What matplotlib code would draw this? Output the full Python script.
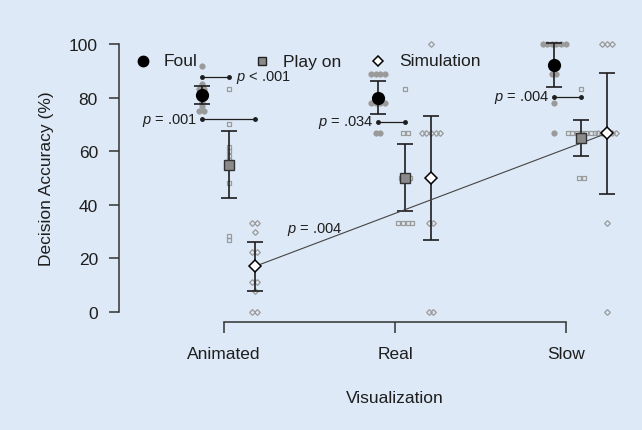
import matplotlib
matplotlib.use("Agg")
import matplotlib.pyplot as plt

plt.rcParams['font.family'] = ['Liberation Sans', 'DejaVu Sans']
plt.rcParams['mathtext.fontset'] = 'custom'
plt.rcParams['mathtext.it'] = 'Liberation Sans:italic'
plt.rcParams['mathtext.rm'] = 'Liberation Sans'

categories = ['Animated', 'Real', 'Slow']
series = ['Foul', 'Play on', 'Simulation']

# group means and 95% CI half widths (%)
foul_mean = [81.0, 80.0, 92.2]
foul_ci = [3.4, 6.3, 8.3]
playon_mean = [55.0, 50.0, 65.0]
playon_ci = [12.6, 12.5, 6.7]
sim_mean = [17.0, 50.0, 66.7]
sim_ci = [9.2, 23.3, 22.5]

# individual participant scores
foul_raw = [
    [91.7, 85.0, 83.3, 83.3, 81.7, 80.0, 78.3, 76.7, 75.0, 75.0],
    [88.9, 88.9, 88.9, 88.9, 77.8, 77.8, 77.8, 77.8, 66.7, 66.7],
    [100, 100, 100, 100, 100, 100, 88.9, 88.9, 77.8, 66.7],
]
playon_raw = [
    [83.3, 70.0, 61.7, 60.0, 58.3, 56.7, 48.3, 28.3, 26.7],
    [83.3, 66.7, 66.7, 50.0, 50.0, 50.0, 33.3, 33.3, 33.3, 33.3],
    [83.3, 66.7, 66.7, 66.7, 66.7, 66.7, 66.7, 66.7, 50.0, 50.0],
]
sim_raw = [
    [33.3, 33.3, 30.0, 22.2, 22.2, 11.1, 11.1, 7.7, 0, 0],
    [100, 66.7, 66.7, 66.7, 66.7, 66.7, 33.3, 33.3, 0, 0],
    [100, 100, 100, 66.7, 66.7, 66.7, 66.7, 66.7, 33.3, 0],
]

# pairwise comparisons: category, target series, height, label, side
comp_cat = [0, 0, 1, 2]
comp_target = [1, 2, 1, 1]
comp_y = [87.7, 72.0, 71.0, 80.3]
comp_label = [r'$p$ < .001', r'$p$ = .001', r'$p$ = .034', r'$p$ = .004']
comp_side = ['right', 'left', 'left', 'left']
trend_label = r'$p$ = .004'

BG = '#dde9f6'
INK = '#1e1e1e'
GREY = '#9a9a9a'

offsets = [-0.13, 0.03, 0.18]
step = 1.03


def xpos(cat, s):
    return cat * step + offsets[s]


def swarm(values, x0, d=0.027):
    xs, ys = [], []
    for v in sorted(set(values), reverse=True):
        k = values.count(v)
        for j in range(k):
            xs.append(x0 + (j - (k - 1) / 2) * d)
            ys.append(v)
    return xs, ys


fig = plt.figure(figsize=(6.42, 4.31), dpi=100, facecolor=BG)
ax = fig.add_axes([0.1625, 0.2427, 0.8257, 0.684])
ax.set_facecolor(BG)

means = [foul_mean, playon_mean, sim_mean]
cis = [foul_ci, playon_ci, sim_ci]
raws = [foul_raw, playon_raw, sim_raw]
raw_style = [
    dict(marker='o', ms=3.9, mfc=GREY, mec=GREY, mew=0.5),
    dict(marker='s', ms=3.3, mfc='none', mec=GREY, mew=0.9),
    dict(marker='D', ms=2.9, mfc='none', mec=GREY, mew=0.9),
]
mean_style = [
    dict(marker='o', ms=8.5, mfc='black', mec='black', mew=1),
    dict(marker='s', ms=6.5, mfc='#8a8a8a', mec='#333333', mew=1),
    dict(marker='D', ms=6, mfc='white', mec='black', mew=1.1),
]

for s in range(3):
    for c in range(3):
        xs, ys = swarm(raws[s][c], xpos(c, s))
        ax.plot(xs, ys, ls='none', zorder=2, clip_on=False, **raw_style[s])
        ax.errorbar(xpos(c, s), means[s][c], yerr=cis[s][c], color=INK,
                    lw=1.2, capsize=5.5, capthick=1.2, zorder=3)
        ax.plot(xpos(c, s), means[s][c], ls='none', zorder=5, **mean_style[s])

# comparison brackets
for c, t, y, lab, side in zip(comp_cat, comp_target, comp_y, comp_label, comp_side):
    x0, x1 = xpos(c, 0), xpos(c, t)
    ax.plot([x0, x1], [y, y], color=INK, lw=0.9, marker='o', ms=2.5, zorder=4)
    if side == 'right':
        ax.text(x1 + 0.04, y, lab, ha='left', va='center', fontsize=10.5, color=INK)
    else:
        ax.text(x0 - 0.03, y, lab, ha='right', va='center', fontsize=10.5, color=INK)

# simulation trend line
ax.plot([xpos(0, 2), xpos(2, 2)], [sim_mean[0], sim_mean[2]], color='#444444',
        lw=0.8, marker='o', ms=2.2, zorder=4)
ax.text(0.53, 31, trend_label, ha='center', va='center', fontsize=10.5, color=INK)

ax.set_xlim(-0.7, 2.4)
ax.set_ylim(-5, 105)
ax.set_xticks(range(3))
ax.set_xticklabels(categories)
ax.set_yticks([0, 20, 40, 60, 80, 100])
for side in ['top', 'right']:
    ax.spines[side].set_visible(False)
ax.spines['left'].set_position(('data', -0.614))
ax.spines['left'].set_bounds(0, 100)
ax.spines['bottom'].set_position(('data', -3.7))
ax.spines['bottom'].set_bounds(0, 2)
for side in ['left', 'bottom']:
    ax.spines[side].set_color('#333333')
    ax.spines[side].set_linewidth(1.1)
ax.tick_params(axis='y', length=7.2, width=1.1, color='#333333', pad=8,
               labelsize=12.5, labelcolor=INK)
ax.tick_params(axis='x', length=8, width=1.1, color='#333333', pad=9,
               labelsize=12.5, labelcolor=INK)

fig.text(47 / 642, 1 - 179 / 431, 'Decision Accuracy (%)', rotation=90,
         ha='center', va='center', fontsize=12.5, color=INK)
fig.text(395 / 642, 1 - 399 / 431, 'Visualization', ha='center', va='center',
         fontsize=12.5, color=INK)

# legend drawn by hand
leg_marker_x = [143, 262, 378]
leg_style = [
    dict(marker='o', ms=7.5, mfc='black', mec='black'),
    dict(marker='s', ms=5.5, mfc='#8a8a8a', mec='#222222', mew=1),
    dict(marker='D', ms=5.5, mfc='white', mec='black', mew=1.1),
]
for name, mx, st in zip(series, leg_marker_x, leg_style):
    fig.lines.append(plt.Line2D([mx / 642], [1 - 62 / 431], transform=fig.transFigure,
                                ls='none', **st))
    fig.text((mx + 21) / 642, 1 - 62 / 431, name, ha='left', va='center',
             fontsize=12.5, color=INK)

fig.savefig('out.png', dpi=100, facecolor=BG)
